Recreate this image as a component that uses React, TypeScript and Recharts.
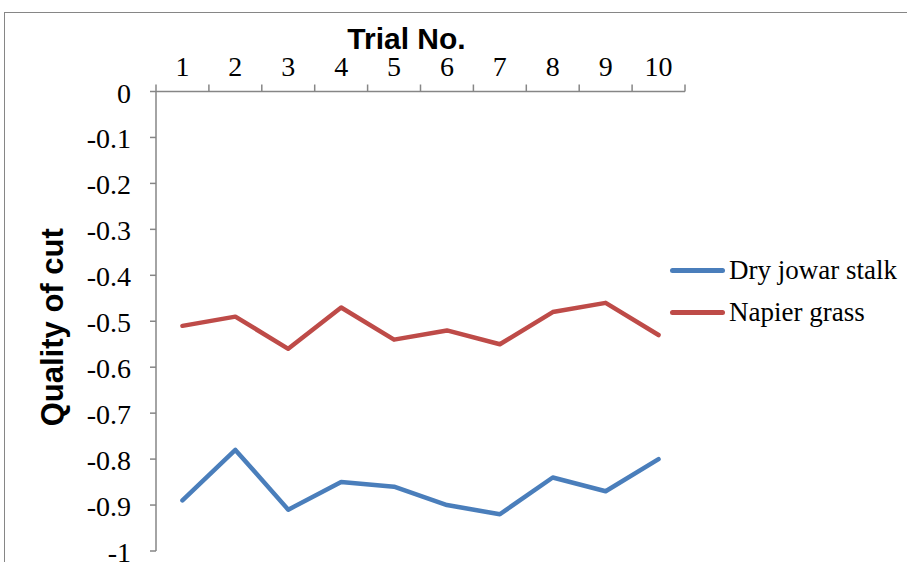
import React from 'react';
import { LineChart, Line, XAxis, YAxis, Legend } from 'recharts';

// trial numbers and quality-of-cut readings per material
const trials = [1, 2, 3, 4, 5, 6, 7, 8, 9, 10];
const dryJowarStalk = [-0.89, -0.78, -0.91, -0.85, -0.86, -0.9, -0.92, -0.84, -0.87, -0.8];
const napierGrass = [-0.51, -0.49, -0.56, -0.47, -0.54, -0.52, -0.55, -0.48, -0.46, -0.53];
const yTicks = [0, -0.1, -0.2, -0.3, -0.4, -0.5, -0.6, -0.7, -0.8, -0.9, -1];
// category edges (tick marks sit between trials, labels on the trials)
const xEdges = [0.5, 1.5, 2.5, 3.5, 4.5, 5.5, 6.5, 7.5, 8.5, 9.5, 10.5];

const data = trials.map((t, i) => ({
  trial: t,
  jowar: dryJowarStalk[i],
  napier: napierGrass[i],
}));

const BLUE = '#4a7ebb';
const RED = '#be4b48';
const AXIS = '#868686';
const SERIF = "'Liberation Serif', 'Times New Roman', serif";
const SANS = "'Liberation Sans', Arial, sans-serif";

const X_TICK_SIZE = 7;
const X_TICK_MARGIN = 9;

function TrialTick({ x, y, payload }: any) {
  const v = payload.value;
  if (Number.isInteger(v)) {
    return (
      <text x={x} y={y} textAnchor="middle" fontFamily={SERIF} fontSize={28} fill="#000">
        {v}
      </text>
    );
  }
  return (
    <line
      x1={x} x2={x}
      y1={y + X_TICK_MARGIN} y2={y + X_TICK_MARGIN + X_TICK_SIZE}
      stroke={AXIS} strokeWidth={1.5}
    />
  );
}

function ValueTick({ x, y, payload }: any) {
  return (
    <text x={x} y={y} dy={11} textAnchor="end" fontFamily={SERIF} fontSize={28} fill="#000">
      {String(payload.value)}
    </text>
  );
}

function TrialTitle({ viewBox }: any) {
  return (
    <text x={viewBox.x + viewBox.width / 2 - 14} y={viewBox.y + 49} textAnchor="middle"
      fontFamily={SANS} fontWeight="bold" fontSize={30} fill="#000">
      Trial No.
    </text>
  );
}

function QualityTitle({ viewBox }: any) {
  const cx = viewBox.x + 63;
  const cy = viewBox.y + viewBox.height / 2 + 6;
  return (
    <text x={cx} y={cy} transform={`rotate(-90, ${cx}, ${cy})`} textAnchor="middle"
      fontFamily={SANS} fontWeight="bold" fontSize={31} fill="#000">
      Quality of cut
    </text>
  );
}

function SeriesLegend({ payload }: any) {
  return (
    <div>
      {payload.map((p: any) => (
        <div key={p.value} style={{ display: 'flex', alignItems: 'center', height: 42 }}>
          <div style={{ width: 55, height: 5, borderRadius: 3, background: p.color }} />
          <span style={{ marginLeft: 4, fontFamily: SERIF, fontSize: 27, color: '#000', lineHeight: '30px' }}>
            {p.value}
          </span>
        </div>
      ))}
    </div>
  );
}

export default function App() {
  return (
    <div style={{ position: 'fixed', left: 0, top: 0, width: 907, height: 562, background: '#fff', overflow: 'hidden' }}>
      {/* chart frame */}
      <div style={{ position: 'absolute', left: 4, top: 12, width: 1000, height: 1000, borderTop: `1.5px solid ${AXIS}`, borderLeft: `1.5px solid ${AXIS}` }} />
      <div style={{ position: 'absolute', left: 0, top: 0 }}>
        <LineChart width={907} height={562} data={data} margin={{ top: 0, right: 222, bottom: 11, left: 0 }}>
          <XAxis
            dataKey="trial" type="number" orientation="top" domain={[0.5, 10.5]} ticks={xEdges.flatMap((e, i) => (i < trials.length ? [e, trials[i]] : [e]))}
            height={91.5} tickLine={false} tickSize={X_TICK_SIZE} tickMargin={X_TICK_MARGIN}
            axisLine={{ stroke: AXIS, strokeWidth: 1.5 }} tick={<TrialTick />} interval={0}
            label={<TrialTitle />}
          />
          <YAxis
            type="number" domain={[-1, 0]} ticks={yTicks} width={156} interval={0}
            tickSize={6} tickMargin={19} tickLine={{ stroke: AXIS, strokeWidth: 1.5 }}
            axisLine={{ stroke: AXIS, strokeWidth: 1.5 }} tick={<ValueTick />}
            label={<QualityTitle />}
          />
          <Legend
            layout="horizontal" align="center" verticalAlign="middle"
            wrapperStyle={{ left: 670, top: 249, width: 240 }}
            content={<SeriesLegend />}
          />
          <Line dataKey="jowar" name="Dry jowar stalk" type="linear" stroke={BLUE} strokeWidth={4.5}
            dot={false} strokeLinecap="round" strokeLinejoin="round" isAnimationActive={false} />
          <Line dataKey="napier" name="Napier grass" type="linear" stroke={RED} strokeWidth={4.5}
            dot={false} strokeLinecap="round" strokeLinejoin="round" isAnimationActive={false} />
        </LineChart>
      </div>
    </div>
  );
}
